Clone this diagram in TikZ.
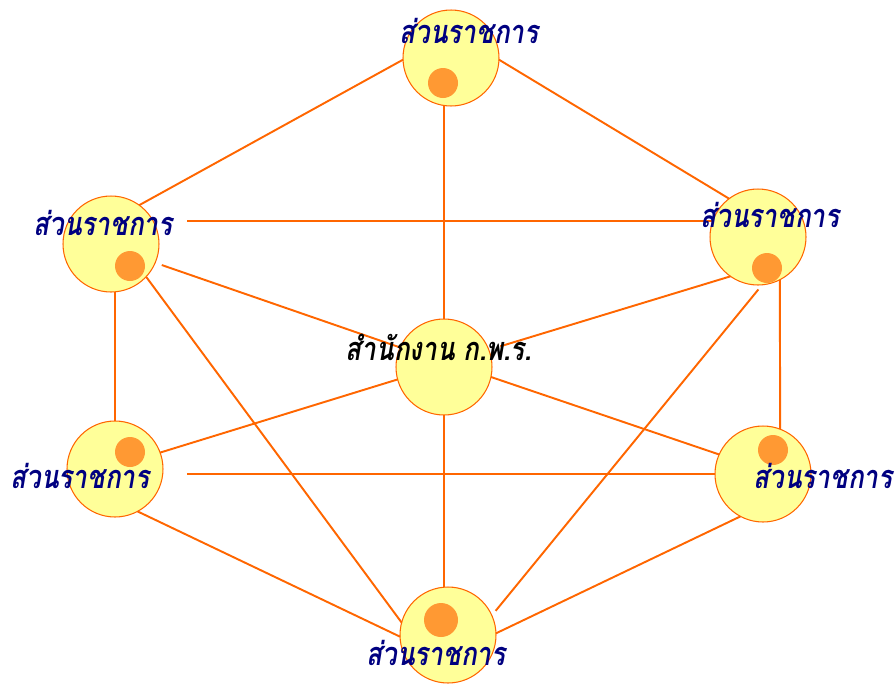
\documentclass[tikz,border=0pt]{standalone}
\usepackage{fontspec}
\newfontfamily\thaifont[Script=Thai, FakeStretch=0.8]{Loma}
\definecolor{linkorange}{RGB}{255,102,0}
\definecolor{ballyellow}{RGB}{255,255,153}
\definecolor{dotorange}{RGB}{255,153,51}
\definecolor{labelblue}{RGB}{0,0,128}
\tikzset{
  unit/.style = {circle, draw = linkorange, line width = 0.6pt, fill = ballyellow,
                 minimum size = 1.92cm, inner sep = 0pt, outer sep = 0pt},
  link/.style = {draw = linkorange, line width = 1.1pt},
  unitdot/.style = {fill = dotorange},
  unitlabel/.style = {font = \thaifont\bfseries\itshape\fontsize{18.5}{20}\selectfont,
                      text = labelblue, inner sep = 0pt, anchor = base},
}
\begin{document}
\begin{tikzpicture}[x = 0.02cm, y = -0.02cm]
\useasboundingbox (0,0) rectangle (896,684);
% circles
\node[unit] (top) at (451,58) {};
\node[unit] (lup) at (111,244) {};
\node[unit] (rup) at (758,237) {};
\node[unit] (ctr) at (444,367) {};
\node[unit] (llo) at (115,469) {};
\node[unit] (rlo) at (763,474) {};
\node[unit] (bot) at (448,635) {};
% links
\draw[link] (top.182) -- (lup.54);
\draw[link] (top.-2) -- (rup.127);
\draw[link] (ctr.north |- top.south) -- (ctr.north);
\draw[link, shorten >= 0.56cm] (rup.160) -- (rup.160 -| lup.east);
\draw[link, shorten <= 0.14cm] (lup.-23) -- (ctr.156);
\draw[link] (lup.-43) -- (bot.165);
\draw[link] (llo.north |- lup.south) -- (llo.north);
\draw[link, shorten >= 0.24cm] (rup.235) -- (ctr.21);
\draw[link, shorten <= 0.12cm, shorten >= 0.12cm] (rup.-85) -- (bot.24);
\draw[link] (rup.-63) -- (rlo.69);
\draw[link] (llo.20) -- (ctr.195);
\draw[link, shorten >= 0.48cm] (rlo.west) -- (rlo.west -| llo.east);
\draw[link] (llo.-62) -- (bot.182);
\draw[link] (rlo.156) -- (ctr.-12);
\draw[link] (rlo.242) -- (bot.2);
\draw[link] (ctr.south) -- (ctr.south |- bot.north);
% dots
\fill[unitdot] (443,83) circle (15);
\fill[unitdot] (130,266) circle (15);
\fill[unitdot] (767,268) circle (15);
\fill[unitdot] (130,452) circle (15);
\fill[unitdot] (773,450) circle (15);
\fill[unitdot] (441,620) circle (17);
% labels
\node[unitlabel] (toplabel) at (469,43) {ส่วนราชการ};
\node[unitlabel] (luplabel) at (103,235) {ส่วนราชการ};
\node[unitlabel] (ruplabel) at (770,227) {ส่วนราชการ};
\node[unitlabel, text = black] (ctrlabel) at (439,360) {สำนักงาน ก.พ.ร.};
\node[unitlabel] (llolabel) at (80,488) {ส่วนราชการ};
\node[unitlabel] (rlolabel) at (823,488) {ส่วนราชการ};
\node[unitlabel] (botlabel) at (436,665) {ส่วนราชการ};
\end{tikzpicture}
\end{document}
